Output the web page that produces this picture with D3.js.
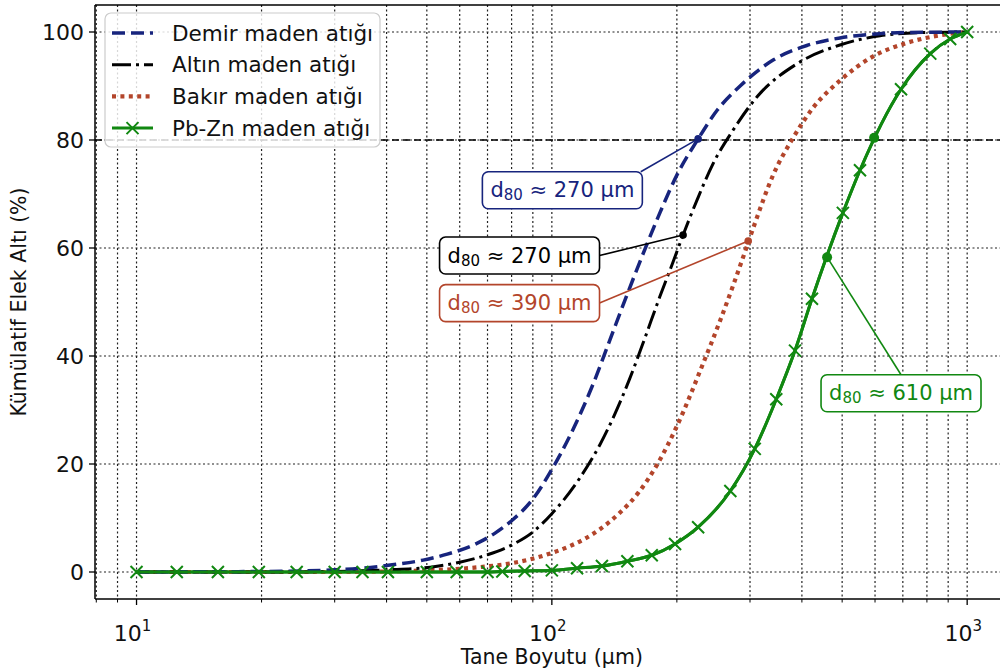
<!DOCTYPE html>
<html>
<head>
<meta charset="utf-8">
<script src="https://cdn.jsdelivr.net/npm/d3@7"></script>
<style>
  body { margin: 0; background: #fff; }
  svg { display: block; font-family: "DejaVu Sans", sans-serif; }
</style>
</head>
<body>
<svg id="chart" width="1000" height="669"></svg>
<script>
// ---- data ----
var demirSize = [10, 20, 25, 30, 35, 40, 49, 56, 66, 73, 80, 90, 100, 111, 126, 138, 152, 169, 182, 200, 225, 250, 284, 341, 411, 494, 593, 715, 1000];
var demirPass = [0, 0.1, 0.2, 0.4, 0.7, 1.2, 2.2, 3.3, 5.3, 7.2, 9.5, 13.5, 19, 25.5, 35, 43, 51.5, 60.5, 66.5, 73.5, 80.2, 85.5, 90, 94.8, 97.5, 98.9, 99.6, 99.9, 100];

var altinSize = [10, 20, 30, 40, 51, 60, 70, 81, 90, 100, 117, 131, 154, 166, 182, 196, 207, 224, 244, 273, 312, 389, 494, 617, 783, 1000];
var altinPass = [0, 0, 0.1, 0.4, 0.9, 1.8, 3.2, 5.2, 7.4, 10.8, 17.5, 23.8, 35.8, 42.5, 51, 57.5, 62.4, 69, 75.5, 81.8, 88, 94.1, 97.6, 99.3, 99.9, 100];

var bakirSize = [10, 30, 45, 67, 81, 97, 112, 119, 131, 145, 162, 179, 200, 231, 254, 273, 297, 308, 341, 381, 426, 494, 594, 717, 861, 1000];
var bakirPass = [0, 0, 0.2, 0.9, 1.7, 3.2, 5, 6, 8, 10.8, 14.8, 19.8, 27, 38.5, 46.5, 53, 61, 64.5, 73.5, 80.4, 86, 91, 95.5, 98, 99.4, 100];

var pbznSize = [10, 12.5, 15.7, 19.7, 24.3, 30, 35, 40.3, 50, 59, 70, 76, 86, 100, 115, 132, 152, 174, 198, 225, 269, 308, 347, 385, 423, 502, 552, 693, 815, 910, 1000];
var pbznPass = [0, 0, 0, 0, 0, 0, 0, 0, 0, 0, 0, 0.1, 0.2, 0.3, 0.7, 1.1, 2, 3.1, 5.2, 8.3, 15, 22.8, 32, 41, 50.6, 66.5, 74.4, 89.4, 96, 98.7, 100];

var seriesNames = ["Demir maden atığı", "Altın maden atığı", "Bakır maden atığı", "Pb-Zn maden atığı"];

var yTicks = [0, 20, 40, 60, 80, 100];
var xMajor = [10, 100, 1000];
var xExp = ["1", "2", "3"];

// d80 annotations: pointed value and label
var annSize = [225, 207, 297, 460];
var annPass = [80.2, 62.4, 61.3, 58.3];
var annValue = ["270", "270", "390", "610"];
// extra marked point on the Pb-Zn curve
var extraSize = [597];
var extraPass = [80.4];

// ---- styles / layout ----
var colors = ["#17247d", "#000000", "#b3452b", "#118811"];
var dashes = ["13,6", "19,5,3,5", "4,4.4", null];
var widths = [3.5, 3, 4.2, 3];
var boxPos = [[106, 70.7], [83.6, 58.6], [83.6, 49.8], [693, 33.1]];   // box centres (data coords)
var attach = [[0.99, 0], [1, 0.5], [1, 0.5], [0.5, 0]];              // where the connector meets the box

var svg = d3.select("#chart");
var pL = 95, pT = 5, pB = 599, pR = 1008.7;

var x = d3.scaleLog().domain([Math.pow(10, 0.9), Math.pow(10, 3.1)]).range([pL, pR]);
var y = d3.scaleLinear().domain([-5, 105]).range([pB, pT]);

svg.append("defs").append("clipPath").attr("id", "clip")
  .append("rect").attr("x", pL).attr("y", pT).attr("width", pR - pL).attr("height", pB - pT);

// grid
var xGrid = [];
[1, 10, 100].forEach(function(dec) {
  for (var k = 1; k <= 9; k++) {
    var v = k * dec;
    if (v >= x.domain()[0] && v <= x.domain()[1]) xGrid.push(v);
  }
});
xGrid.push(1000);

var grid = svg.append("g").attr("clip-path", "url(#clip)");
grid.selectAll(".vg").data(xGrid).enter().append("line")
  .attr("x1", function(d) { return x(d); }).attr("x2", function(d) { return x(d); })
  .attr("y1", pT).attr("y2", pB)
  .attr("stroke", "#222").attr("stroke-width", 1.2).attr("stroke-dasharray", "2,2.5");
grid.selectAll(".hg").data(yTicks).enter().append("line")
  .attr("x1", pL).attr("x2", pR)
  .attr("y1", function(d) { return y(d); }).attr("y2", function(d) { return y(d); })
  .attr("stroke", "#222").attr("stroke-width", 1.2).attr("stroke-dasharray", "2,2.5");
grid.append("line")
  .attr("x1", pL).attr("x2", pR).attr("y1", y(80)).attr("y2", y(80))
  .attr("stroke", "#000").attr("stroke-width", 1.4).attr("stroke-dasharray", "7,4");

// curves
var line = d3.line().curve(d3.curveMonotoneX)
  .x(function(d) { return x(d[0]); })
  .y(function(d) { return y(d[1]); });

var sizes = [demirSize, altinSize, bakirSize, pbznSize];
var passes = [demirPass, altinPass, bakirPass, pbznPass];
var plot = svg.append("g").attr("clip-path", "url(#clip)");

[3, 2, 1, 0].forEach(function(i) {
  var pts = d3.zip(sizes[i], passes[i]);
  plot.append("path").datum(pts)
    .attr("d", line)
    .attr("fill", "none")
    .attr("stroke", colors[i])
    .attr("stroke-width", widths[i])
    .attr("stroke-dasharray", dashes[i]);
});
// green on top at the bottom plateau
plot.append("path").datum(d3.zip(pbznSize, pbznPass))
  .attr("d", line).attr("fill", "none")
  .attr("stroke", colors[3]).attr("stroke-width", widths[3]);

var xMark = "M-6,-6L6,6M-6,6L6,-6";
plot.selectAll(".mk").data(d3.zip(pbznSize, pbznPass)).enter().append("path")
  .attr("d", xMark)
  .attr("transform", function(d) { return "translate(" + x(d[0]) + "," + y(d[1]) + ")"; })
  .attr("stroke", colors[3]).attr("stroke-width", 2).attr("fill", "none");

// annotations
var ann = svg.append("g");
annSize.forEach(function(s, i) {
  var px = x(s), py = y(annPass[i]);
  var cx = x(boxPos[i][0]), cy = y(boxPos[i][1]);
  var g = ann.append("g");
  var conn = g.append("line").attr("stroke", colors[i]).attr("stroke-width", 1.6);
  g.append("circle").attr("cx", px).attr("cy", py).attr("r", i === 3 ? 5 : 3.8).attr("fill", colors[i]);
  var box = g.append("rect");
  var t = g.append("text").attr("x", cx).attr("y", cy).attr("text-anchor", "middle")
    .attr("dominant-baseline", "central").attr("font-size", 21).attr("fill", colors[i]);
  t.append("tspan").text("d");
  t.append("tspan").attr("font-size", 15).attr("dy", 5).text("80");
  t.append("tspan").attr("dy", -5).text(" ≈ " + annValue[i] + " µm");
  var bb = t.node().getBBox();
  var bw = bb.width + 16, bh = 37;
  var bx = cx - bw / 2, by = cy - bh / 2;
  box.attr("x", bx).attr("y", by).attr("width", bw).attr("height", bh)
    .attr("rx", 6).attr("fill", "#fff").attr("stroke", colors[i]).attr("stroke-width", 1.6);
  conn.attr("x1", px).attr("y1", py)
    .attr("x2", bx + attach[i][0] * bw).attr("y2", by + attach[i][1] * bh);
});
ann.selectAll(".ex").data(d3.zip(extraSize, extraPass)).enter().append("circle")
  .attr("cx", function(d) { return x(d[0]); }).attr("cy", function(d) { return y(d[1]); })
  .attr("r", 5).attr("fill", colors[3]);

// axes frame
var ax = svg.append("g").attr("stroke", "#000").attr("stroke-width", 1.5);
ax.append("line").attr("x1", pL).attr("x2", pL).attr("y1", pT).attr("y2", pB);
ax.append("line").attr("x1", pL).attr("x2", pR).attr("y1", pB).attr("y2", pB);
ax.append("line").attr("x1", pL).attr("x2", pR).attr("y1", pT).attr("y2", pT);

// y ticks
svg.append("g").selectAll("line").data(yTicks).enter().append("line")
  .attr("x1", pL - 6).attr("x2", pL)
  .attr("y1", function(d) { return y(d); }).attr("y2", function(d) { return y(d); })
  .attr("stroke", "#000").attr("stroke-width", 1.3);
svg.append("g").selectAll("text").data(yTicks).enter().append("text")
  .attr("x", pL - 11).attr("y", function(d) { return y(d); })
  .attr("text-anchor", "end").attr("dominant-baseline", "central")
  .attr("font-size", 22).attr("fill", "#111").text(function(d) { return d; });

// x ticks
svg.append("g").selectAll("line").data(xGrid).enter().append("line")
  .attr("x1", function(d) { return x(d); }).attr("x2", function(d) { return x(d); })
  .attr("y1", pB).attr("y2", function(d) { return pB + (xMajor.indexOf(d) >= 0 ? 6 : 3.5); })
  .attr("stroke", "#000").attr("stroke-width", function(d) { return xMajor.indexOf(d) >= 0 ? 1.3 : 1; });
var xl = svg.append("g").selectAll("text").data(xMajor).enter().append("text")
  .attr("x", function(d) { return x(d) - 4; }).attr("y", 641)
  .attr("text-anchor", "middle").attr("font-size", 22).attr("fill", "#111");
xl.append("tspan").text("10");
xl.append("tspan").attr("font-size", 15).attr("dy", -10).text(function(d, i) { return xExp[i]; });

// axis titles
svg.append("text").attr("x", (pL + pR) / 2).attr("y", 664).attr("text-anchor", "middle")
  .attr("font-size", 20.5).attr("fill", "#111").text("Tane Boyutu (µm)");
svg.append("text").attr("transform", "translate(26," + (pT + pB) / 2 + ") rotate(-90)")
  .attr("text-anchor", "middle").attr("font-size", 20.5).attr("fill", "#111").text("Kümülatif Elek Altı (%)");

// legend
var lg = svg.append("g");
lg.append("rect").attr("x", 105).attr("y", 13).attr("width", 275).attr("height", 134).attr("rx", 6)
  .attr("fill", "#fff").attr("fill-opacity", 0.82).attr("stroke", "#cccccc").attr("stroke-width", 1.2);
seriesNames.forEach(function(name, i) {
  var ry = 33 + i * 31.7;
  lg.append("line").attr("x1", 112).attr("x2", 153).attr("y1", ry).attr("y2", ry)
    .attr("stroke", colors[i]).attr("stroke-width", widths[i]).attr("stroke-dasharray", dashes[i]);
  if (i === 3) {
    lg.append("path").attr("d", xMark).attr("transform", "translate(132.5," + ry + ")")
      .attr("stroke", colors[i]).attr("stroke-width", 2).attr("fill", "none");
  }
  lg.append("text").attr("x", 172).attr("y", ry).attr("dominant-baseline", "central")
    .attr("font-size", 21.5).attr("fill", "#111").text(name);
});
</script>
</body>
</html>
